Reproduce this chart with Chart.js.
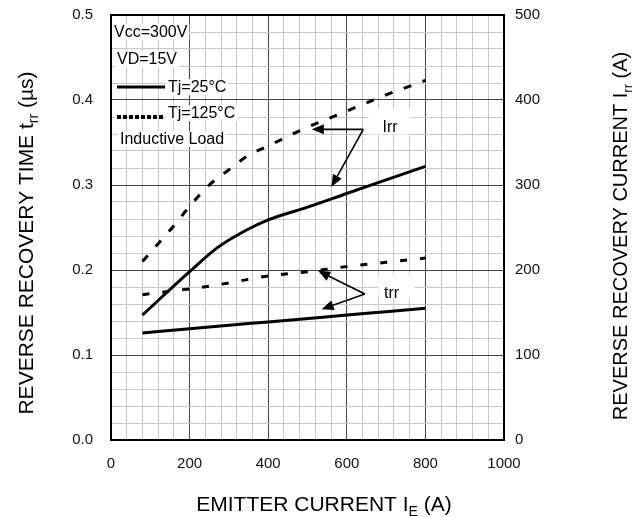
<!DOCTYPE html>
<html>
<head>
<meta charset="utf-8">
<script src="https://cdn.jsdelivr.net/npm/chart.js@4/dist/chart.umd.min.js"></script>
<style>
  body { margin: 0; background: #fff; }
  #wrap { width: 640px; height: 517px; }
</style>
</head>
<body>
<div id="wrap"><canvas id="chart1" width="640" height="517"></canvas></div>
<script>
// emitter current (A) for each curve
var irrX125 = [80, 120, 160, 200, 250, 300, 350, 400, 500, 600, 700, 800];
var irr125  = [210, 231, 252, 275, 300, 318, 335, 346, 368, 387, 406, 423];
var irrX25  = [80, 200, 270, 345, 400, 500, 600, 700, 800];
var irr25   = [147, 198, 226, 247, 259, 274, 290, 306, 322];
var trrX125 = [80, 150, 250, 350, 400, 500, 600, 700, 800];
var trr125  = [0.171, 0.175, 0.181, 0.189, 0.193, 0.198, 0.204, 0.209, 0.214];
var trrX25  = [80, 200, 350, 480, 600, 700, 800];
var trr25   = [0.126, 0.131, 0.137, 0.142, 0.147, 0.151, 0.155];

var xTicks = [0, 200, 400, 600, 800, 1000];
var yTicks = [0.0, 0.1, 0.2, 0.3, 0.4, 0.5];
var y2Ticks = [0, 100, 200, 300, 400, 500];

var legendLines = ['Vcc=300V', 'VD=15V', 'Tj=25°C', 'Tj=125°C', 'Inductive Load'];

var FONT = '"Liberation Sans", Arial, sans-serif';
var MAJOR = '#444444';
var MINOR = '#c8c8c8';

function toPoints(xs, ys) {
    return xs.map(function (x, i) { return { x: x, y: ys[i] }; });
}

function isMajor(v, step) {
    var r = v / step;
    return Math.abs(r - Math.round(r)) < 1e-6;
}

// text with subscripts: parts = [[text, isSub], ...]
function partsWidth(ctx, parts, size) {
    var w = 0;
    parts.forEach(function (p) {
        ctx.font = (p[1] ? Math.round(size * 0.65) : size) + 'px ' + FONT;
        w += ctx.measureText(p[0]).width;
    });
    return w;
}
function drawParts(ctx, parts, x, y, size) {
    parts.forEach(function (p) {
        var s = p[1] ? Math.round(size * 0.65) : size;
        ctx.font = s + 'px ' + FONT;
        ctx.fillText(p[0], x, p[1] ? y + size * 0.25 : y);
        x += ctx.measureText(p[0]).width;
    });
}

function boxText(ctx, text, x, y, size) {
    ctx.font = size + 'px ' + FONT;
    var w = ctx.measureText(text).width;
    ctx.fillStyle = '#fff';
    ctx.fillRect(x - 2, y - size * 0.8, w + 4, size * 1.0);
    ctx.fillStyle = '#000';
    ctx.fillText(text, x, y);
}

function arrow(ctx, x1, y1, x2, y2) {
    var ang = Math.atan2(y2 - y1, x2 - x1);
    ctx.beginPath();
    ctx.moveTo(x1, y1);
    ctx.lineTo(x2 - 6 * Math.cos(ang), y2 - 6 * Math.sin(ang));
    ctx.stroke();
    ctx.beginPath();
    ctx.moveTo(x2, y2);
    ctx.lineTo(x2 - 12 * Math.cos(ang) + 5 * Math.sin(ang), y2 - 12 * Math.sin(ang) - 5 * Math.cos(ang));
    ctx.lineTo(x2 - 12 * Math.cos(ang) - 5 * Math.sin(ang), y2 - 12 * Math.sin(ang) + 5 * Math.cos(ang));
    ctx.closePath();
    ctx.fill();
}

var overlay = {
    id: 'overlay',
    afterDraw: function (chart) {
        var ctx = chart.ctx;
        var a = chart.chartArea;
        var sx = chart.scales.x, sy = chart.scales.y;
        ctx.save();
        ctx.textBaseline = 'alphabetic';
        ctx.textAlign = 'left';
        ctx.fillStyle = '#000';
        ctx.strokeStyle = '#000';

        // plot frame
        ctx.lineWidth = 2;
        ctx.strokeRect(a.left, a.top, a.right - a.left, a.bottom - a.top);

        // condition block, top left
        var lx = a.left;
        boxText(ctx, legendLines[0], lx + 3, a.top + 22, 16);
        boxText(ctx, legendLines[1], lx + 6, a.top + 49, 16);
        boxText(ctx, legendLines[2], lx + 57, a.top + 77, 16);
        boxText(ctx, legendLines[3], lx + 57, a.top + 103, 16);
        boxText(ctx, legendLines[4], lx + 9, a.top + 129, 16);
        ctx.lineWidth = 3;
        ctx.beginPath();
        ctx.moveTo(lx + 6, a.top + 72);
        ctx.lineTo(lx + 54, a.top + 72);
        ctx.stroke();
        ctx.lineWidth = 4;
        ctx.setLineDash([4, 2]);
        ctx.beginPath();
        ctx.moveTo(lx + 6, a.top + 102);
        ctx.lineTo(lx + 54, a.top + 102);
        ctx.stroke();
        ctx.setLineDash([]);

        // Irr / trr callouts
        ctx.lineWidth = 1.6;
        ctx.fillStyle = '#fff';
        ctx.fillRect(sx.getPixelForValue(655), sy.getPixelForValue(0.39), 42, 26);
        ctx.fillRect(sx.getPixelForValue(680), sy.getPixelForValue(0.195), 36, 24);
        ctx.fillStyle = '#000';
        ctx.font = '16px ' + FONT;
        ctx.textAlign = 'center';
        ctx.fillText('Irr', sx.getPixelForValue(710), sy.getPixelForValue(0.3694) + 6);
        ctx.fillText('trr', sx.getPixelForValue(714), sy.getPixelForValue(0.1745) + 6);
        var p0x = sx.getPixelForValue(642), p0y = sy.getPixelForValue(0.3655);
        arrow(ctx, p0x, p0y, sx.getPixelForValue(511), p0y);
        arrow(ctx, p0x, p0y, sx.getPixelForValue(561), sy.getPixelForValue(0.298));
        var q0x = sx.getPixelForValue(646), q0y = sy.getPixelForValue(0.1718);
        arrow(ctx, q0x, q0y, sx.getPixelForValue(527), sy.getPixelForValue(0.199));
        arrow(ctx, q0x, q0y, sx.getPixelForValue(536), sy.getPixelForValue(0.1538));

        // axis titles
        ctx.textAlign = 'left';
        var bottomT = [['EMITTER CURRENT I', false], ['E', true], [' (A)', false]];
        var w = partsWidth(ctx, bottomT, 21);
        drawParts(ctx, bottomT, 324 - w / 2, 511, 21);

        var leftT = [['REVERSE RECOVERY TIME t', false], ['rr', true], [' (\u00b5s)', false]];
        w = partsWidth(ctx, leftT, 21);
        ctx.save();
        ctx.translate(33, 243);
        ctx.rotate(-Math.PI / 2);
        drawParts(ctx, leftT, -w / 2, 0, 21);
        ctx.restore();

        var rightT = [['REVERSE RECOVERY CURRENT I', false], ['rr', true], [' (A)', false]];
        w = partsWidth(ctx, rightT, 20);
        ctx.save();
        ctx.translate(627, 236);
        ctx.rotate(-Math.PI / 2);
        drawParts(ctx, rightT, -w / 2, 0, 20);
        ctx.restore();

        ctx.restore();
    }
};

// keep tick padding from pushing the plot area down
function noVPad(s, width) {
    s.width = width;
    s.paddingTop = 0;
    s.paddingBottom = 0;
}

function drawChart() {
    var ctx = document.getElementById('chart1').getContext('2d');
    var tickFont = { family: FONT, size: 15 };
    var config = {
        type: 'line',
        data: {
            datasets: [
                { label: 'Irr Tj=125', data: toPoints(irrX125, irr125), yAxisID: 'y2',
                  borderColor: '#000', borderWidth: 3, borderDash: [8, 12], pointRadius: 0,
                  cubicInterpolationMode: 'monotone' },
                { label: 'Irr Tj=25', data: toPoints(irrX25, irr25), yAxisID: 'y2',
                  borderColor: '#000', borderWidth: 3, pointRadius: 0,
                  cubicInterpolationMode: 'monotone' },
                { label: 'trr Tj=125', data: toPoints(trrX125, trr125), yAxisID: 'y',
                  borderColor: '#000', borderWidth: 3, borderDash: [7, 13], pointRadius: 0,
                  cubicInterpolationMode: 'monotone' },
                { label: 'trr Tj=25', data: toPoints(trrX25, trr25), yAxisID: 'y',
                  borderColor: '#000', borderWidth: 3, pointRadius: 0,
                  cubicInterpolationMode: 'monotone' }
            ]
        },
        options: {
            responsive: false,
            animation: false,
            layout: { padding: { top: 15, left: 0, right: 0, bottom: 0 } },
            plugins: { legend: { display: false }, tooltip: { enabled: false } },
            scales: {
                x: {
                    type: 'linear', min: xTicks[0], max: xTicks[xTicks.length - 1],
                    afterFit: function (s) { s.height = 77; },
                    border: { display: false },
                    grid: {
                        drawTicks: false,
                        color: function (c) { return isMajor(c.tick.value, 200) ? MAJOR : MINOR; }
                    },
                    ticks: {
                        stepSize: 40, autoSkip: false, maxRotation: 0, padding: 15,
                        color: '#111', font: tickFont,
                        callback: function (v) { return xTicks.indexOf(v) >= 0 ? String(v) : ''; }
                    }
                },
                y: {
                    position: 'left', min: yTicks[0], max: yTicks[yTicks.length - 1],
                    afterFit: function (s) { noVPad(s, 111); },
                    border: { display: false },
                    grid: {
                        drawTicks: false,
                        color: function (c) { return isMajor(c.tick.value, 0.1) ? MAJOR : MINOR; }
                    },
                    ticks: {
                        stepSize: 0.02, autoSkip: false, padding: 18,
                        color: '#111', font: tickFont,
                        callback: function (v) { return isMajor(v, 0.1) ? v.toFixed(1) : ''; }
                    }
                },
                y2: {
                    position: 'right', min: y2Ticks[0], max: y2Ticks[y2Ticks.length - 1],
                    afterFit: function (s) { noVPad(s, 136); },
                    border: { display: false },
                    grid: { display: false, drawTicks: false },
                    ticks: {
                        stepSize: 100, autoSkip: false, padding: 11,
                        color: '#111', font: tickFont
                    }
                }
            }
        },
        plugins: [overlay]
    };
    new Chart(ctx, config);
}

drawChart();
</script>
</body>
</html>
